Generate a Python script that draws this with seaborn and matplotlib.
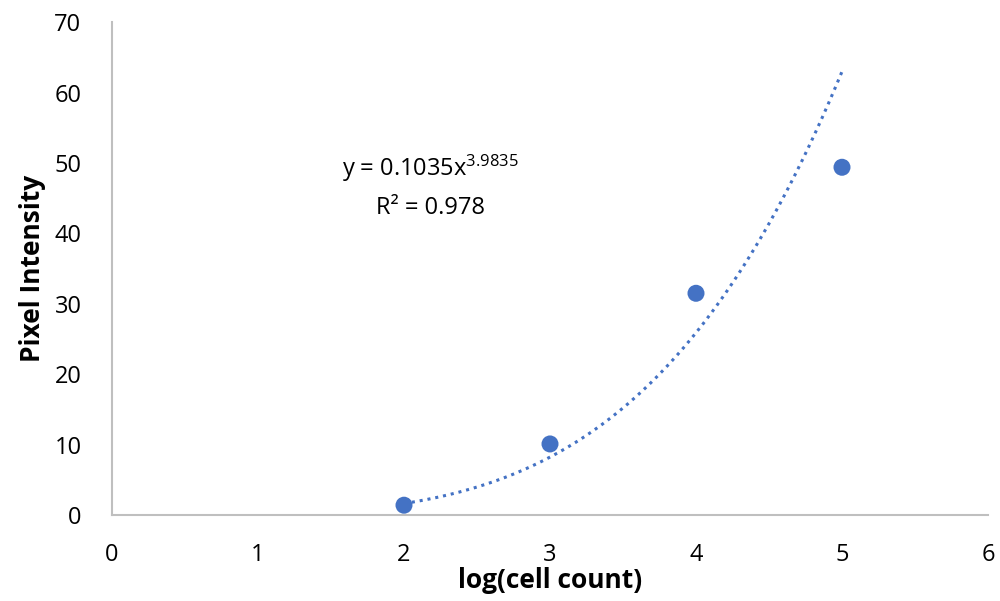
import numpy as np
import pandas as pd
import matplotlib
matplotlib.use('Agg')
import matplotlib.pyplot as plt
import seaborn as sns

# data
log_count = [2, 3, 4, 5]
intensity = [1.4, 10.1, 31.5, 49.4]

# power trendline as shown on the chart
coef_a = 0.1035
coef_b = 3.9835

sns.set_style('white')
plt.rcParams['font.family'] = ['Open Sans', 'DejaVu Sans']
plt.rcParams['mathtext.default'] = 'regular'
plt.rcParams['text.color'] = 'black'
plt.rcParams['axes.labelcolor'] = 'black'

df = pd.DataFrame({'log(cell count)': log_count, 'Pixel Intensity': intensity})

fig = plt.figure(figsize=(10, 6.01), dpi=100)
ax = fig.add_axes([0.112, 0.143, 0.876, 0.820])

# trendline
xs = np.linspace(min(log_count), max(log_count), 200)
ax.plot(xs, coef_a * xs ** coef_b, color='#4472C4', linestyle=(0, (1, 1.6)), linewidth=2.2, zorder=2)

sns.scatterplot(data=df, x='log(cell count)', y='Pixel Intensity', color='#4472C4',
                s=150, edgecolor='none', ax=ax, zorder=3)

ax.set_xlim(0, 6)
ax.set_ylim(0, 70)
ax.set_xticks(range(0, 7))
ax.set_yticks(range(0, 71, 10))
ax.tick_params(axis='both', length=0, labelsize=17, colors='black')
ax.tick_params(axis='x', pad=20)
ax.tick_params(axis='y', pad=22)

for side in ['top', 'right']:
    ax.spines[side].set_visible(False)
for side in ['left', 'bottom']:
    ax.spines[side].set_color('#BFBFBF')
    ax.spines[side].set_linewidth(1.5)

ax.set_xlabel('log(cell count)', fontsize=19, fontweight='bold', labelpad=0)
ax.set_ylabel('Pixel Intensity', fontsize=19, fontweight='bold', labelpad=6)

ax.text(2.18, 49.3, r'y = 0.1035x$^{3.9835}$', ha='center', va='center', fontsize=17)
ax.text(2.18, 43.6, 'R² = 0.978', ha='center', va='center', fontsize=17)

fig.savefig('out.png', dpi=100)
